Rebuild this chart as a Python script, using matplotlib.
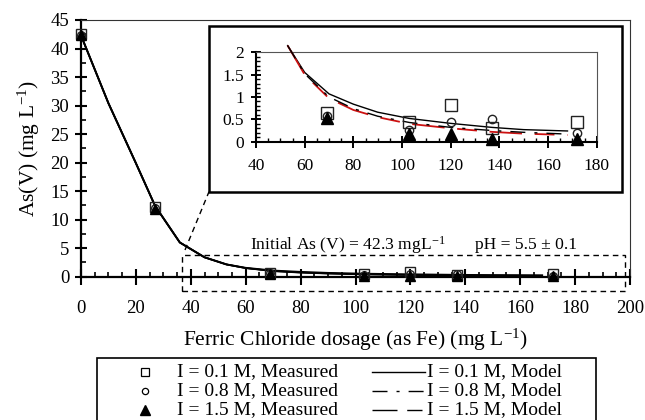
import matplotlib
matplotlib.use('Agg')
import matplotlib.pyplot as plt
from matplotlib.patches import Rectangle
from matplotlib.lines import Line2D
from matplotlib.ticker import MultipleLocator

plt.rcParams['font.family'] = ['Liberation Serif', 'DejaVu Serif']
plt.rcParams['mathtext.fontset'] = 'custom'
plt.rcParams['mathtext.rm'] = 'Liberation Serif'
plt.rcParams['mathtext.it'] = 'Liberation Serif:italic'

# ---------------- data ----------------
dose = [0, 27, 69, 103, 120, 137, 172]
meas_01 = [42.5, 12.2, 0.64, 0.43, 0.82, 0.31, 0.44]
meas_08 = [42.3, 12.0, 0.57, 0.26, 0.45, 0.50, 0.20]
meas_15 = [42.3, 11.8, 0.52, 0.18, 0.18, 0.05, 0.05]

model_x = [0, 10, 20, 27, 36, 45, 53, 60, 70, 80, 90, 103, 120, 137, 150, 168]
model_01 = [42.3, 30.4, 19.9, 12.4, 6.0, 3.4, 2.15, 1.55, 1.07, 0.84, 0.66, 0.52, 0.41, 0.32, 0.27, 0.24]
model_08 = [42.3, 30.4, 19.9, 12.4, 6.0, 3.4, 2.15, 1.52, 1.00, 0.74, 0.57, 0.43, 0.32, 0.25, 0.21, 0.17]
model_15 = [42.3, 30.4, 19.9, 12.4, 6.0, 3.4, 2.15, 1.50, 0.97, 0.71, 0.55, 0.40, 0.30, 0.22, 0.18, 0.15]

labels_meas = ['I = 0.1 M, Measured', 'I = 0.8 M, Measured', 'I = 1.5 M, Measured']
labels_model = ['I = 0.1 M, Model', 'I = 0.8 M, Model', 'I = 1.5 M, Model']

main_xticks = [0, 20, 40, 60, 80, 100, 120, 140, 160, 180, 200]
main_yticks = [0, 5, 10, 15, 20, 25, 30, 35, 40, 45]
inset_xticks = [40, 60, 80, 100, 120, 140, 160, 180]
inset_yticks = [0, 0.5, 1, 1.5, 2]

W, H = 645, 420
def fx(px):
    return px / W
def fy(py):
    return 1 - py / H

dash_08 = (0, (10.8, 6.5, 2.2, 6.5))
dash_15 = (0, (18, 7, 11, 7))

fig = plt.figure(figsize=(6.45, 4.2), dpi=100)
ax = fig.add_axes([fx(81), fy(276.7), fx(630) - fx(81), fy(20) - fy(276.7)])

# model lines (main)
ax.plot(model_x, model_01, color='black', lw=1.4, zorder=3)
ax.plot(model_x, model_08, color='black', lw=1.2, zorder=3)
ax.plot(model_x, model_15, color='black', lw=1.2, zorder=3)

# measured (main)
ax.plot(dose, meas_01, ls='none', marker='s', ms=7.5, mfc='none', mec='#222222', mew=1.0, clip_on=False, zorder=4)
ax.plot(dose, meas_08, ls='none', marker='o', ms=5.5, mfc='none', mec='#222222', mew=1.0, clip_on=False, zorder=5)
ax.plot(dose, meas_15, ls='none', marker='^', ms=7.5, mfc='black', mec='black', clip_on=False, zorder=6)

ax.set_xlim(0, 200)
ax.set_ylim(0, 45)
ax.set_xticks(main_xticks)
ax.set_yticks(main_yticks)
ax.xaxis.set_minor_locator(MultipleLocator(5))
ax.yaxis.set_minor_locator(MultipleLocator(2.5))
ax.tick_params(axis='x', which='major', direction='inout', length=11, width=1.5, labelsize=13.5, pad=11)
ax.tick_params(axis='y', which='major', direction='inout', length=9, width=1.5, labelsize=13.5, pad=4)
ax.tick_params(axis='both', which='minor', direction='in', length=3.5, width=1.2)
for s in ['left', 'bottom']:
    ax.spines[s].set_linewidth(1.6)
for s in ['top', 'right']:
    ax.spines[s].set_linewidth(0.8)
    ax.spines[s].set_color('#333333')

ax.set_xlabel(r'Ferric Chloride dosage (as Fe) (mg L$^{\mathrm{-1}}$)', fontsize=15.5, labelpad=7)
ax.set_ylabel(r'As(V) (mg L$^{\mathrm{-1}}$)', fontsize=15.5, labelpad=6)

ax.text(61.6, 5.5, r'Initial As (V) = 42.3 mgL$^{\mathrm{-1}}$', fontsize=12.6, ha='left', va='center')
ax.text(143.5, 5.5, r'pH = 5.5 ± 0.1', fontsize=12.6, ha='left', va='center')

# dashed zoom rectangle
ax.add_patch(Rectangle((36.7, -2.45), 161.5, 6.25, fill=False, ls=(0, (4, 3)), lw=1.0,
                       edgecolor='black', clip_on=False, zorder=2))
# connector
ax.add_line(Line2D([fx(185), fx(209)], [fy(250), fy(191.7)], transform=fig.transFigure,
                   ls=(0, (4, 3)), lw=1.0, color='black', clip_on=False))
# inset frame
ax.add_patch(Rectangle((fx(209), fy(191.7)), fx(622) - fx(209), fy(25.7) - fy(191.7),
                       transform=fig.transFigure, facecolor='white', edgecolor='black', lw=1.8,
                       clip_on=False, zorder=10))

# ---------------- inset ----------------
ins = fig.add_axes([fx(256), fy(141.7), fx(596.7) - fx(256), fy(52.3) - fy(141.7)])
ins.set_zorder(5)
ins.patch.set_alpha(0)
start = model_x.index(53)
ins.plot(model_x[start:], model_01[start:], color='black', lw=1.0, clip_on=False, zorder=3)
ins.plot(model_x[start:], model_15[start:], color='#cc1111', lw=1.3, ls=dash_15, clip_on=False, zorder=3)
ins.plot(model_x[start:], model_08[start:], color='black', lw=1.0, ls=dash_08, clip_on=False, zorder=3)
ins.plot(dose, meas_01, ls='none', marker='s', ms=8, mfc='none', mec='#222222', mew=1.0, zorder=4)
ins.plot(dose, meas_08, ls='none', marker='o', ms=6, mfc='none', mec='#222222', mew=1.0, zorder=5)
ins.plot(dose, meas_15, ls='none', marker='^', ms=8.5, mfc='black', mec='black', clip_on=False, zorder=6)
ins.set_xlim(40, 180)
ins.set_ylim(0, 2)
ins.set_xticks(inset_xticks)
ins.set_yticks(inset_yticks)
ins.set_yticklabels(['0', '0.5', '1', '1.5', '2'])
ins.xaxis.set_minor_locator(MultipleLocator(5))
ins.yaxis.set_minor_locator(MultipleLocator(0.1))
ins.tick_params(axis='x', which='major', direction='inout', length=8, width=1.4, labelsize=12.5, pad=8)
ins.tick_params(axis='y', which='major', direction='inout', length=7, width=1.4, labelsize=12.5, pad=5)
ins.tick_params(axis='both', which='minor', direction='in', length=3, width=1.0)
for s in ['left', 'bottom']:
    ins.spines[s].set_linewidth(1.5)
for s in ['top', 'right']:
    ins.spines[s].set_linewidth(0.8)
    ins.spines[s].set_color('#555555')

# ---------------- legend (manual) ----------------
fig.add_artist(Rectangle((fx(97), fy(425)), fx(596) - fx(97), fy(358) - fy(425),
                         transform=fig.transFigure, fill=False, edgecolor='black', lw=1.2, clip_on=False))
rows = [372, 391, 410]
meas_styles = [dict(marker='s', ms=6, mfc='none', mec='black', mew=0.9),
               dict(marker='o', ms=4.5, mfc='none', mec='black', mew=0.9),
               dict(marker='^', ms=7.5, mfc='black', mec='black')]
model_styles = [dict(ls='-', lw=1.0), dict(ls=dash_08, lw=1.0), dict(ls=dash_15, lw=1.0)]
for r, lab, st in zip(rows, labels_meas, meas_styles):
    fig.add_artist(Line2D([fx(145)], [fy(r)], ls='none', transform=fig.transFigure, **st))
    fig.text(fx(177), fy(r), lab, fontsize=14, ha='left', va='center')
for r, lab, st in zip(rows, labels_model, model_styles):
    fig.add_artist(Line2D([fx(372), fx(425)], [fy(r), fy(r)], color='black', transform=fig.transFigure, **st))
    fig.text(fx(427), fy(r), lab, fontsize=14, ha='left', va='center')

fig.savefig('out.png', dpi=100)
